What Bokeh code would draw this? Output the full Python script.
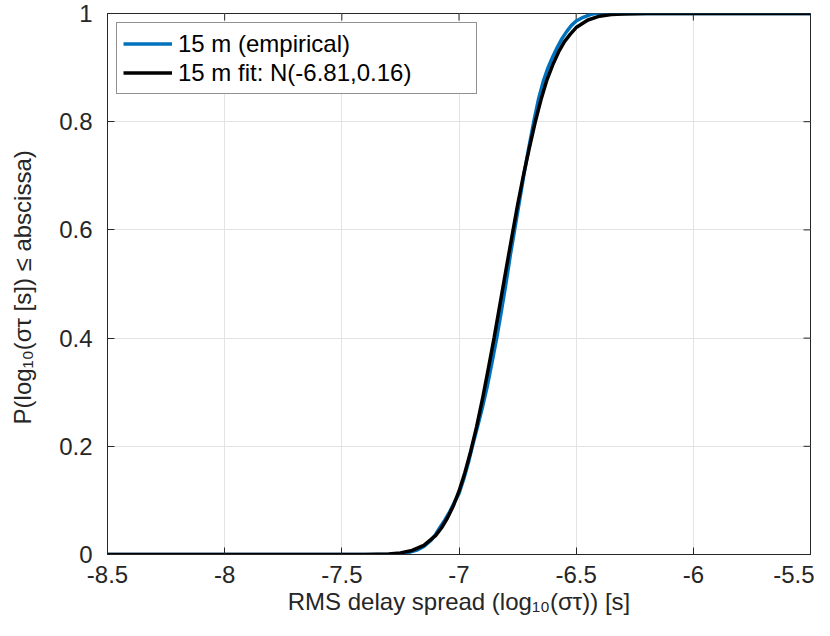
import math
from bokeh.plotting import figure
from bokeh.models import Legend, LegendItem, FixedTicker, Range1d
from bokeh.embed import file_html
from bokeh.resources import INLINE

# Empirical CDF
emp_x = [-8.5, -7.26, -7.22, -7.18, -7.15, -7.12, -7.10, -7.08, -7.06, -7.04, -7.02,
         -7.00, -6.98, -6.96, -6.94, -6.92, -6.90, -6.88, -6.86, -6.84, -6.82, -6.80,
         -6.78, -6.76, -6.74, -6.72, -6.70, -6.68, -6.66, -6.64, -6.62, -6.60, -6.58,
         -6.56, -6.54, -6.52, -6.50, -6.47, -6.44, -6.42, -5.5]
emp_y = [0.0, 0.0, 0.003, 0.008, 0.015, 0.026, 0.037, 0.051, 0.064, 0.079, 0.096,
         0.113, 0.139, 0.17, 0.205, 0.238, 0.272, 0.31, 0.353, 0.398, 0.448, 0.5,
         0.556, 0.607, 0.658, 0.71, 0.757, 0.802, 0.843, 0.875, 0.9, 0.92, 0.938,
         0.954, 0.967, 0.978, 0.986, 0.993, 0.998, 1.0, 1.0]

# Fitted normal CDF N(-6.81, 0.16)
fit_x = [-8.5, -7.5, -7.4, -7.3, -7.25, -7.2, -7.15, -7.1, -7.075, -7.05, -7.025,
         -7.0, -6.975, -6.95, -6.925, -6.9, -6.875, -6.85, -6.825, -6.8, -6.775,
         -6.75, -6.725, -6.7, -6.675, -6.65, -6.625, -6.6, -6.575, -6.55, -6.525,
         -6.5, -6.45, -6.4, -6.35, -6.3, -6.2, -5.5]
fit_y = [0.0, 0.00001, 0.0001, 0.0011, 0.003, 0.0075, 0.017, 0.035, 0.049, 0.067, 0.089,
         0.117, 0.151, 0.191, 0.236, 0.287, 0.343, 0.401, 0.463, 0.525, 0.586,
         0.646, 0.701, 0.751, 0.799, 0.841, 0.877, 0.905, 0.929, 0.948, 0.962,
         0.974, 0.988, 0.995, 0.998, 0.9993, 0.99995, 1.0]

x_ticks = [-8.5, -8, -7.5, -7, -6.5, -6, -5.5]
y_ticks = [0, 0.2, 0.4, 0.6, 0.8, 1]
x_tick_labels = {-8.5: "-8.5", -8: "-8", -7.5: "-7.5", -7: "-7", -6.5: "-6.5", -6: "-6", -5.5: "-5.5"}
y_tick_labels = {0: "0", 0.2: "0.2", 0.4: "0.4", 0.6: "0.6", 0.8: "0.8", 1: "1"}

X_MIN, X_MAX = -8.5, -5.5
Y_MIN, Y_MAX = 0, 1

FONT = "Liberation Sans"
TXT = "#262626"
FS = "24px"

p = figure(width=814, height=620, output_backend="svg", toolbar_location=None,
           x_range=Range1d(X_MIN, X_MAX), y_range=Range1d(Y_MIN, Y_MAX),
           min_border_left=107, min_border_right=4, min_border_top=13, min_border_bottom=66,
           x_axis_label="RMS delay spread (log₁₀(στ)) [s]",
           y_axis_label="P(log₁₀(στ [s])  ≤ abscissa)")
p.outline_line_color = TXT
p.outline_line_width = 1
p.background_fill_color = "white"

for ax in (p.xaxis[0], p.yaxis[0]):
    ax.major_tick_in = 7
    ax.major_tick_out = 0
    ax.minor_tick_line_color = None
    ax.axis_line_color = TXT
    ax.major_tick_line_color = TXT
    ax.major_label_text_font = FONT
    ax.major_label_text_font_size = FS
    ax.major_label_text_color = TXT
    ax.axis_label_text_font = FONT
    ax.axis_label_text_font_size = FS
    ax.axis_label_text_font_style = "normal"
    ax.axis_label_text_color = TXT

p.xaxis.ticker = FixedTicker(ticks=x_ticks)
p.yaxis.ticker = FixedTicker(ticks=y_ticks)
p.xaxis.major_label_overrides = x_tick_labels
p.yaxis.major_label_overrides = y_tick_labels
p.xaxis.major_label_standoff = 11
p.yaxis.major_label_standoff = 15
p.xaxis.axis_label_standoff = 2
p.yaxis.axis_label_standoff = 20

p.xgrid.ticker = FixedTicker(ticks=x_ticks)
p.ygrid.ticker = FixedTicker(ticks=y_ticks)
p.grid.grid_line_color = "#e3e3e3"
p.grid.grid_line_width = 1

# inward tick marks on the top and right edges of the box (clipped to the frame)
p.scatter(x_ticks, [Y_MAX] * len(x_ticks), marker="dash", size=14, angle=math.pi / 2,
          line_color=TXT, line_width=1)
p.scatter([X_MAX] * len(y_ticks), y_ticks, marker="dash", size=14,
          line_color=TXT, line_width=1)

r1 = p.line(emp_x, emp_y, line_color="#0072BD", line_width=3.5)
r2 = p.line(fit_x, fit_y, line_color="black", line_width=3.5)

legend = Legend(items=[LegendItem(label="15 m (empirical)", renderers=[r1]),
                       LegendItem(label="15 m fit: N(-6.81,0.16)", renderers=[r2])],
                location="top_left")
legend.label_text_font = FONT
legend.label_text_font_size = FS
legend.label_text_color = "black"
legend.border_line_color = TXT
legend.border_line_width = 1
legend.glyph_width = 49
legend.glyph_height = 29
legend.label_height = 29
legend.label_width = 292
legend.spacing = 0
legend.padding = 6
legend.margin = 9
legend.label_standoff = 6
p.add_layout(legend, "center")

open("out.html", "w").write(file_html(p, INLINE))
